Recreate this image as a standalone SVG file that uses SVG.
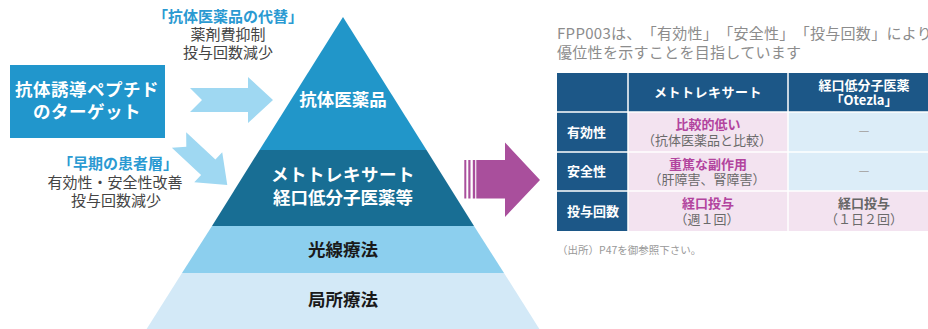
<svg xmlns="http://www.w3.org/2000/svg" width="928" height="329" viewBox="0 0 928 329">
<style>
text{font-family:"Noto Sans CJK JP","Noto Sans",sans-serif;text-spacing-trim:space-all}
.wb{fill:#fff;font-weight:700}
.dk{fill:#1a1a1a;font-weight:700}
.ann{fill:#444;font-size:15px}
.annb{fill:#2b9ad2;font-size:15px;font-weight:700}
.ttl{fill:#8c8c8c;font-size:15px;letter-spacing:0.3px}
.hd{fill:#1c5787}
.pk{fill:#f3e3f0}
.lb{fill:#dcedf8}
.th{fill:#fff;font-size:13px;font-weight:700}
.mg{fill:#b2449e;font-size:13px;font-weight:700}
.gy{fill:#6a6a6a;font-size:13px}
.gd{fill:#666;font-size:13px;font-weight:700}
.ds{fill:#aaa;font-size:13px}
.ba{fill:#9fd8f2}
.pa{fill:#a94f9c}
</style>
<g id="pyramid-top">
<polygon points="343,17 259.5,150 426.5,150" fill="#2196c9"/>
<text class="wb" x="343" y="106" font-size="17.5" text-anchor="middle">抗体医薬品</text>
</g>
<g id="pyramid-mtx">
<polygon points="259.5,150 426.5,150 474,226 212,226" fill="#186e94"/>
<text class="wb" x="343" y="181" font-size="17.5" text-anchor="middle" letter-spacing="0.5">メトトレキサート</text>
<text class="wb" x="343" y="204" font-size="17.5" text-anchor="middle">経口低分子医薬等</text>
</g>
<g id="pyramid-light">
<polygon points="212,226 474,226 504,273 182,273" fill="#8ccfee"/>
<text class="dk" x="343" y="256" font-size="17.5" text-anchor="middle">光線療法</text>
</g>
<g id="pyramid-local">
<polygon points="182,273 504,273 540,330 146,330" fill="#d3e9f7"/>
<text class="dk" x="343" y="306" font-size="17.5" text-anchor="middle">局所療法</text>
</g>
<g id="target-box">
<rect x="10" y="65" width="155" height="73" fill="#2196cc"/>
<text class="wb" x="87" y="96" font-size="17.5" text-anchor="middle" letter-spacing="0.5">抗体誘導ペプチド</text>
<text class="wb" x="87" y="117.5" font-size="17.5" text-anchor="middle" letter-spacing="0.5">のターゲット</text>
</g>
<g id="note-antibody">
<text class="annb" x="228" y="22" text-anchor="middle">「抗体医薬品の代替」</text>
<text class="ann" x="228" y="39.5" text-anchor="middle">薬剤費抑制</text>
<text class="ann" x="228" y="58" text-anchor="middle">投与回数減少</text>
</g>
<g id="note-early">
<text class="annb" x="118" y="169" text-anchor="middle">「早期の患者層」</text>
<text class="ann" x="115" y="188" text-anchor="middle">有効性・安全性改善</text>
<text class="ann" x="116" y="206" text-anchor="middle">投与回数減少</text>
</g>
<g id="connectors">
<path class="ba" d="M190,88 L248,88 L248,77 L273,100 L248,123 L248,112 L190,112 L202,100 Z"/>
<path class="ba" transform="translate(179,140) rotate(43)" d="M0,-10.5 L40,-10.5 L40,-20.5 L66,0 L40,20.5 L40,10.5 L0,10.5 L10,0 Z"/>
<rect class="pa" x="464.3" y="160" width="2" height="38.5"/>
<rect class="pa" x="468.3" y="160" width="2.2" height="38.5"/>
<rect class="pa" x="472.8" y="160" width="2.4" height="38.5"/>
<path class="pa" d="M476.3,160 L505,160 L505,142.5 L540,180 L505,217 L505,198.5 L476.3,198.5 Z"/>
</g>
<g id="title">
<text class="ttl" x="557" y="38.5" letter-spacing="0">FPP003は、「有効性」「安全性」「投与回数」により</text>
<text class="ttl" x="557" y="57.5">優位性を示すことを目指しています</text>
</g>
<g id="table">
<rect class="hd" x="557" y="73" width="371" height="39"/>
<rect class="hd" x="557" y="112" width="71" height="119"/>
<rect class="pk" x="628" y="112" width="160" height="119"/>
<rect class="lb" x="788" y="112" width="140" height="79"/>
<rect class="pk" x="788" y="191" width="140" height="40"/>
<g stroke="#fff" stroke-width="1.5" fill="none">
<line x1="628" y1="73" x2="628" y2="231"/>
<line x1="788" y1="73" x2="788" y2="231"/>
<line x1="557" y1="112" x2="928" y2="112"/>
<line x1="557" y1="152" x2="928" y2="152"/>
<line x1="557" y1="191" x2="928" y2="191"/>
</g>
<text class="th" x="708" y="96.5" text-anchor="middle" letter-spacing="0.5">メトトレキサート</text>
<text class="th" x="864" y="89.5" text-anchor="middle">経口低分子医薬</text>
<text class="th" x="864" y="104.5" text-anchor="middle">「Otezla」</text>
<text class="th" x="567" y="136.5">有効性</text>
<text class="th" x="567" y="176">安全性</text>
<text class="th" x="567" y="216">投与回数</text>
<text class="mg" x="708" y="128.5" text-anchor="middle">比較的低い</text>
<text class="gy" x="707" y="145" text-anchor="middle">（抗体医薬品と比較）</text>
<text class="mg" x="708" y="168.5" text-anchor="middle">重篤な副作用</text>
<text class="gy" x="707" y="184" text-anchor="middle">（肝障害、腎障害）</text>
<text class="mg" x="708" y="208" text-anchor="middle">経口投与</text>
<text class="gy" x="707" y="224" text-anchor="middle">（週１回）</text>
<text class="ds" x="864" y="136" text-anchor="middle">－</text>
<text class="ds" x="864" y="175.5" text-anchor="middle">－</text>
<text class="gd" x="864" y="208" text-anchor="middle">経口投与</text>
<text class="gy" x="864" y="224" text-anchor="middle">（１日２回）</text>
</g>
<g id="footnote">
<text x="557" y="254" font-size="10.5" fill="#999">（出所）P47を御参照下さい。</text>
</g>
</svg>
